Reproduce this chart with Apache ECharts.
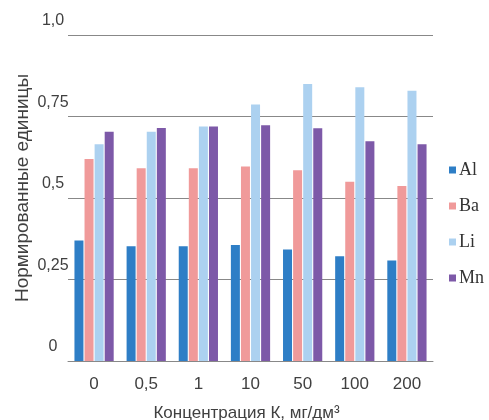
<!DOCTYPE html>
<html>
<head>
<meta charset="utf-8">
<script src="https://cdn.jsdelivr.net/npm/echarts@6/dist/echarts.min.js"></script>
<style>html,body{margin:0;padding:0;background:#fff;}#c{width:489px;height:420px;}</style>
</head>
<body>
<div id="c"></div>
<script>
const categories = ['0', '0,5', '1', '10', '50', '100', '200'];
const seriesNames = ['Al', 'Ba', 'Li', 'Mn'];
const alValues = [0.370, 0.352, 0.352, 0.356, 0.342, 0.321, 0.308];
const baValues = [0.620, 0.591, 0.591, 0.597, 0.585, 0.550, 0.537];
const liValues = [0.665, 0.703, 0.719, 0.787, 0.850, 0.840, 0.829];
const mnValues = [0.703, 0.715, 0.719, 0.723, 0.714, 0.674, 0.665];
const yTickValues = [0, 0.25, 0.5, 0.75, 1.0];
const yTickLabels = ['0', '0,25', '0,5', '0,75', '1,0'];
const xTitle = 'Концентрация К, мг/дм³';
const yTitle = 'Нормированные единицы';

const colors = ['#2e7ec6', '#f09a9a', '#acd1f0', '#7d59a8'];
const allValues = [alValues, baValues, liValues, mnValues];

const chart = echarts.init(document.getElementById('c'));
chart.setOption({
  animation: false,
  backgroundColor: '#fff',
  color: colors,
  grid: { left: 68, right: 56, top: 35, bottom: 59, containLabel: false, outerBoundsMode: 'none' },
  legend: {
    orient: 'vertical',
    left: 444,
    top: 156,
    itemWidth: 7,
    itemHeight: 7,
    itemGap: 18,
    icon: 'rect',
    textStyle: { fontFamily: 'Liberation Serif', fontSize: 18, color: '#333', padding: [0, 0, 0, -2] },
    data: seriesNames
  },
  xAxis: {
    type: 'category',
    data: categories,
    axisLine: { lineStyle: { color: '#888', width: 1 } },
    axisTick: { show: false },
    axisLabel: { fontFamily: 'Liberation Sans', fontSize: 17, color: '#404040', margin: 15 },
    name: xTitle,
    nameLocation: 'middle',
    nameGap: 44,
    nameTextStyle: { fontFamily: 'Liberation Sans', fontSize: 17, color: '#404040', padding: [0, 8, 0, 0] }
  },
  yAxis: {
    type: 'value',
    min: 0,
    max: 1,
    interval: 0.25,
    axisLine: { show: false },
    axisTick: { show: false },
    splitLine: { lineStyle: { color: '#888', width: 1 } },
    axisLabel: {
      fontFamily: 'Liberation Sans', fontSize: 16, color: '#404040',
      align: 'center', margin: 15, verticalAlign: 'bottom', padding: [0, 0, 6, 0],
      formatter: function (v) {
        const i = yTickValues.findIndex(t => Math.abs(t - v) < 1e-9);
        return i >= 0 ? yTickLabels[i] : '';
      }
    },
    name: yTitle,
    nameLocation: 'middle',
    nameGap: 36,
    nameMoveOverlap: false,
    nameTextStyle: { fontFamily: 'Liberation Sans', fontSize: 19, color: '#404040', padding: [0, 0, 0, 20] }
  },
  series: seriesNames.map((n, i) => ({
    name: n,
    type: 'bar',
    data: allValues[i],
    barWidth: 9,
    barGap: '12%',
    itemStyle: { color: colors[i] }
  }))
});
</script>
</body>
</html>
